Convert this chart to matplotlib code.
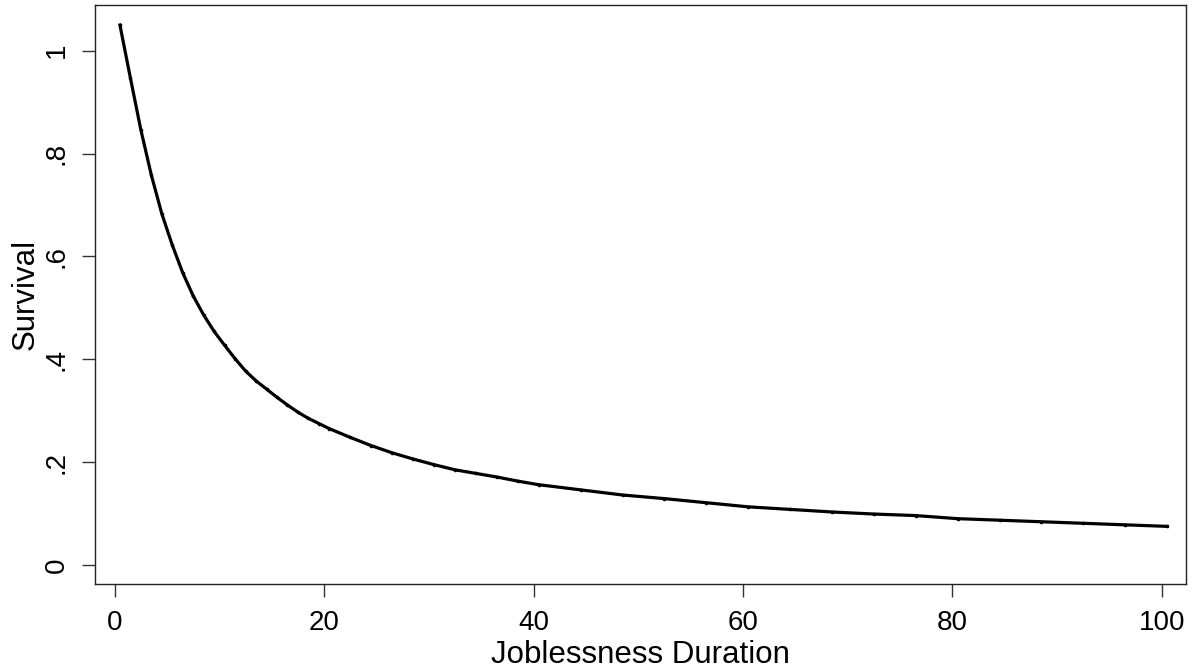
import numpy as np
import matplotlib.pyplot as plt

plt.rcParams['font.family'] = ['Liberation Sans', 'DejaVu Sans']

# survival estimates
duration = [0.5, 1.5, 2.5, 3.5, 4.5, 5.5, 6.5, 7.5, 8.5, 9.5, 10.5, 11.5, 12.5,
            13.5, 14.5, 15.5, 16.5, 17.5, 18.5, 19.5, 20.5, 22.5, 24.5, 26.5,
            28.5, 30.5, 32.5, 34.5, 36.5, 38.5, 40.5, 44.5, 48.5, 52.5, 56.5,
            60.5, 64.5, 68.5, 72.5, 76.5, 80.5, 84.5, 88.5, 92.5, 96.5, 100.5]
survival = [1.05, 0.947, 0.846, 0.758, 0.683, 0.622, 0.568, 0.523, 0.486, 0.454,
            0.427, 0.401, 0.377, 0.358, 0.342, 0.326, 0.311, 0.297, 0.285, 0.275,
            0.265, 0.248, 0.232, 0.218, 0.206, 0.195, 0.185, 0.178, 0.171, 0.163,
            0.156, 0.146, 0.136, 0.129, 0.121, 0.113, 0.108, 0.103, 0.099, 0.096,
            0.090, 0.087, 0.084, 0.081, 0.078, 0.075]

xticks = [0, 20, 40, 60, 80, 100]
yticks = [0, 0.2, 0.4, 0.6, 0.8, 1.0]
ylabels = ['0', '.2', '.4', '.6', '.8', '1']

fig = plt.figure(figsize=(11.96, 6.72), dpi=100)
ax = fig.add_axes([0.0797, 0.131, 0.9119, 0.8616])

ax.plot(duration, survival, color='black', lw=2.3, marker='o', ms=1.6)

ax.set_xlim(-1.85, 102.3)
ax.set_ylim(-0.037, 1.089)
ax.set_xticks(xticks)
ax.set_yticks(yticks)
ax.set_yticklabels(ylabels, rotation=90, va='center')

ax.tick_params(length=9.5, width=1, color='#333333', labelsize=20, pad=9)
for s in ax.spines.values():
    s.set_linewidth(1)
    s.set_color('#222222')

ax.set_xlabel('Joblessness Duration', fontsize=22.5, labelpad=3)
ax.set_ylabel('Survival', fontsize=22.5, labelpad=2)

fig.savefig('out.png', dpi=100)
